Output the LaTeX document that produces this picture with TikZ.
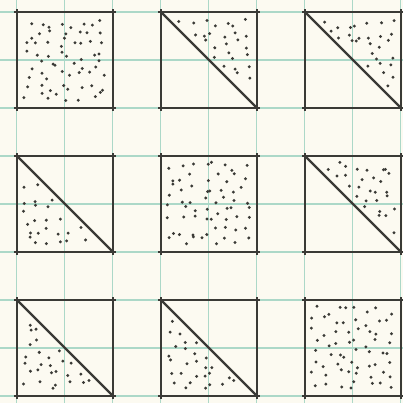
\documentclass[tikz,border=0pt]{standalone}
\usepackage{tikz}

\definecolor{paper}{RGB}{252,250,241}
\definecolor{gridgreen}{RGB}{172,216,200}
\definecolor{ink}{RGB}{58,58,54}

\tikzset{
  frame/.style={draw=ink,line width=1.75pt,shorten <=-1.5pt,shorten >=-1.5pt},
  cut/.style={draw=ink,line width=1.4pt,line cap=round},
  speck/.style={fill=ink},
  gridline/.style={draw=gridgreen,line width=0.6pt},
  outline/.pic={
    \draw[frame] (0,0) -- (2,0);
    \draw[frame] (2,0) -- (2,-2);
    \draw[frame] (2,-2) -- (0,-2);
    \draw[frame] (0,-2) -- (0,0);
  },
  fullbox/.pic={
    \foreach \i in {0,...,7}
      \foreach \j in {0,...,7}{
        \pgfmathsetmacro\p{0.12+(\i+0.5)*0.22+0.2*(rnd-0.5)}
        \pgfmathsetmacro\q{0.12+(\j+0.5)*0.22+0.2*(rnd-0.5)}
        \fill[speck] (\p,-\q) circle (0.034);
      }
    \pic {outline};
  },
  upperbox/.pic={
    \foreach \i in {0,...,7}
      \foreach \j in {0,...,7}{
        \pgfmathsetmacro\p{0.12+(\i+0.5)*0.22+0.2*(rnd-0.5)}
        \pgfmathsetmacro\q{0.12+(\j+0.5)*0.22+0.2*(rnd-0.5)}
        \pgfmathparse{\p-\q>0.14}
        \ifnum\pgfmathresult=1 \fill[speck] (\p,-\q) circle (0.034);\fi
      }
    \draw[cut] (0,0) -- (2,-2);
    \pic {outline};
  },
  lowerbox/.pic={
    \foreach \i in {0,...,7}
      \foreach \j in {0,...,7}{
        \pgfmathsetmacro\p{0.12+(\i+0.5)*0.22+0.2*(rnd-0.5)}
        \pgfmathsetmacro\q{0.12+(\j+0.5)*0.22+0.2*(rnd-0.5)}
        \pgfmathparse{\q-\p>0.14}
        \ifnum\pgfmathresult=1 \fill[speck] (\p,-\q) circle (0.034);\fi
      }
    \draw[cut] (0,0) -- (2,-2);
    \pic {outline};
  }
}

\begin{document}
\begin{tikzpicture}
  \pgfmathsetseed{4217}
  % paper and squared grid
  \fill[paper] (-0.354,0.25) rectangle (8.042,-8.146);
  \useasboundingbox (-0.354,0.25) rectangle (8.042,-8.146);
  \foreach \i in {0,...,8}{
    \draw[gridline] (\i,0.25) -- (\i,-8.146);
    \draw[gridline] (-0.354,-\i) -- (8.042,-\i);
  }
  % the nine tiles
  \foreach \c/\r/\k in {0/0/fullbox,3/0/upperbox,6/0/upperbox,
                        0/-3/lowerbox,3/-3/fullbox,6/-3/upperbox,
                        0/-6/lowerbox,3/-6/lowerbox,6/-6/fullbox}
    \pic at (\c,\r) {\k};
\end{tikzpicture}
\end{document}
